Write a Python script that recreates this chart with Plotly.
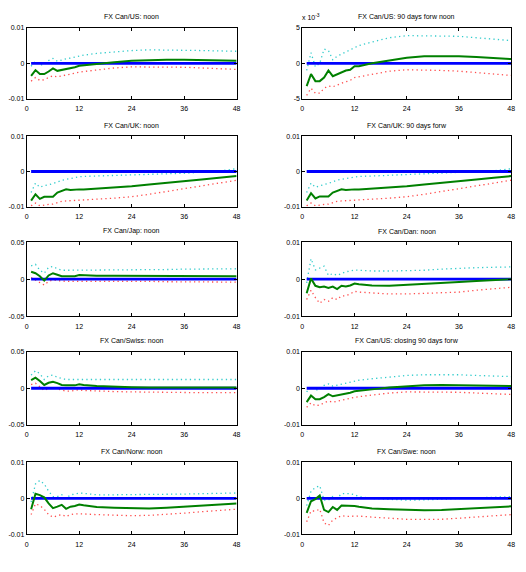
import plotly.graph_objects as go

# Horizons (months)
X = [1, 2, 3, 4, 5, 6, 7, 8, 9, 10, 11, 12, 13, 16, 20, 24, 28, 32, 36, 40, 44, 48]
ZERO = [0.0] * len(X)

titles = [
    "FX Can/US: noon", "FX Can/US: 90 days forw noon",
    "FX Can/UK: noon", "FX Can/UK: 90 days forw",
    "FX Can/Jap: noon", "FX Can/Dan: noon",
    "FX Can/Swiss: noon", "FX Can/US: closing 90 days forw",
    "FX Can/Norw: noon", "FX Can/Swe: noon",
]

# Point response (green) and bands (upper cyan, lower red) per panel
us_noon_mid = [-0.0035, -0.0019, -0.003, -0.003, -0.0023, -0.0014, -0.0021, -0.0019, -0.0016, -0.0014, -0.0011, -0.0007, -0.0006, -0.0002, 0.0003, 0.0007, 0.0009, 0.0010, 0.0010, 0.0009, 0.0008, 0.0007]
us_noon_up = [-0.0008, 0.0006, -0.0005, -0.0003, 0.0008, 0.0014, 0.0006, 0.0010, 0.0013, 0.0015, 0.0018, 0.0021, 0.0023, 0.0028, 0.0033, 0.0036, 0.0038, 0.0038, 0.0037, 0.0036, 0.0035, 0.0034]
us_noon_lo = [-0.0050, -0.0040, -0.0048, -0.0046, -0.0040, -0.0035, -0.0038, -0.0035, -0.0032, -0.0030, -0.0028, -0.0025, -0.0023, -0.0018, -0.0013, -0.0010, -0.0010, -0.0010, -0.0011, -0.0013, -0.0015, -0.0017]

us90_mid = [-3.2, -1.5, -2.5, -2.5, -2.0, -1.0, -1.8, -1.5, -1.2, -1.0, -0.9, -0.4, -0.4, 0.0, 0.4, 0.8, 1.0, 1.05, 1.0, 0.9, 0.8, 0.6]
us90_up = [-1.0, 1.5, -0.5, 0.0, 2.0, 1.8, 0.5, 1.0, 1.3, 1.6, 2.0, 2.3, 2.5, 3.0, 3.6, 3.9, 3.9, 3.9, 3.8, 3.6, 3.4, 3.2]
us90_lo = [-4.5, -3.5, -4.2, -4.2, -3.5, -3.2, -3.3, -3.0, -2.8, -2.6, -2.4, -2.0, -1.9, -1.6, -1.1, -0.9, -0.9, -1.0, -1.1, -1.3, -1.5, -1.7]

uk_noon_mid = [-0.0083, -0.0065, -0.0078, -0.0072, -0.0072, -0.0072, -0.0060, -0.0056, -0.0051, -0.0053, -0.0051, -0.0051, -0.0051, -0.0049, -0.0046, -0.0042, -0.0037, -0.0033, -0.0028, -0.0023, -0.0018, -0.0013]
uk_noon_up = [-0.0060, -0.0033, -0.0045, -0.0040, -0.0038, -0.0035, -0.0030, -0.0025, -0.0022, -0.0020, -0.0018, -0.0015, -0.0014, -0.0013, -0.0011, -0.0010, -0.0008, -0.0006, -0.0005, -0.0002, 0.0001, 0.0008]
uk_noon_lo = [-0.0098, -0.0090, -0.0098, -0.0095, -0.0094, -0.0093, -0.0088, -0.0085, -0.0084, -0.0083, -0.0082, -0.0082, -0.0081, -0.0079, -0.0076, -0.0072, -0.0065, -0.0057, -0.0048, -0.0040, -0.0032, -0.0025]

uk90_mid = [-0.0083, -0.0062, -0.0077, -0.0071, -0.0071, -0.0071, -0.0060, -0.0056, -0.0051, -0.0053, -0.0051, -0.0051, -0.0051, -0.0049, -0.0046, -0.0042, -0.0037, -0.0033, -0.0028, -0.0023, -0.0018, -0.0013]
uk90_up = [-0.0060, -0.0033, -0.0045, -0.0040, -0.0037, -0.0034, -0.0029, -0.0025, -0.0022, -0.0020, -0.0018, -0.0015, -0.0014, -0.0013, -0.0011, -0.0010, -0.0008, -0.0006, -0.0004, -0.0002, 0.0002, 0.0008]
uk90_lo = [-0.0098, -0.0090, -0.0098, -0.0095, -0.0094, -0.0093, -0.0088, -0.0085, -0.0084, -0.0083, -0.0082, -0.0082, -0.0081, -0.0079, -0.0076, -0.0072, -0.0065, -0.0057, -0.0048, -0.0040, -0.0032, -0.0025]

jap_mid = [0.010, 0.008, 0.004, -0.002, 0.005, 0.008, 0.006, 0.004, 0.0038, 0.0035, 0.004, 0.0055, 0.005, 0.0045, 0.0045, 0.0045, 0.0045, 0.0045, 0.0043, 0.0042, 0.0041, 0.004]
jap_up = [0.018, 0.020, 0.012, 0.008, 0.016, 0.017, 0.014, 0.012, 0.012, 0.012, 0.012, 0.013, 0.013, 0.013, 0.013, 0.013, 0.013, 0.013, 0.0135, 0.0135, 0.014, 0.014]
jap_lo = [0.002, -0.001, -0.004, -0.008, -0.003, -0.001, -0.002, -0.003, -0.003, -0.003, -0.003, -0.002, -0.002, -0.0025, -0.003, -0.003, -0.003, -0.0035, -0.0035, -0.0038, -0.004, -0.004]

dan_mid = [-0.0038, 0.0002, -0.0018, -0.0022, -0.0020, -0.0024, -0.0020, -0.0027, -0.0018, -0.0020, -0.0017, -0.0012, -0.0014, -0.0017, -0.0018, -0.0016, -0.0014, -0.0011, -0.0008, -0.0005, -0.0002, 0.0]
dan_up = [-0.0010, 0.0055, 0.0025, 0.0030, 0.0035, 0.0010, 0.0015, 0.0010, 0.0015, 0.0020, 0.0022, 0.0025, 0.0024, 0.0022, 0.0022, 0.0022, 0.0024, 0.0027, 0.0030, 0.0031, 0.0032, 0.0033]
dan_lo = [-0.0055, -0.0030, -0.0050, -0.0065, -0.0055, -0.0060, -0.0050, -0.0055, -0.0045, -0.0045, -0.0040, -0.0033, -0.0035, -0.0038, -0.0040, -0.0040, -0.0039, -0.0037, -0.0035, -0.0030, -0.0026, -0.0022]

swiss_mid = [0.011, 0.0145, 0.010, 0.0045, 0.0075, 0.009, 0.007, 0.0045, 0.004, 0.0035, 0.004, 0.0055, 0.0045, 0.003, 0.002, 0.0015, 0.0012, 0.001, 0.001, 0.001, 0.001, 0.001]
swiss_up = [0.018, 0.024, 0.020, 0.012, 0.017, 0.018, 0.015, 0.013, 0.012, 0.012, 0.012, 0.013, 0.013, 0.012, 0.012, 0.012, 0.012, 0.012, 0.012, 0.012, 0.012, 0.012]
swiss_lo = [0.005, 0.007, 0.002, -0.003, 0.000, 0.001, -0.001, -0.003, -0.004, -0.004, -0.003, -0.002, -0.003, -0.004, -0.0045, -0.005, -0.0055, -0.0055, -0.006, -0.006, -0.006, -0.006]

usc_mid = [-0.0038, -0.0020, -0.0030, -0.0030, -0.0024, -0.0016, -0.0022, -0.0020, -0.0016, -0.0014, -0.0012, -0.0008, -0.0007, -0.0003, 0.0002, 0.0006, 0.0008, 0.0009, 0.0009, 0.0008, 0.0007, 0.0006]
usc_up = [-0.0010, 0.0005, -0.0005, -0.0003, 0.0008, 0.0012, 0.0006, 0.0009, 0.0012, 0.0014, 0.0017, 0.0020, 0.0022, 0.0026, 0.0031, 0.0035, 0.0037, 0.0038, 0.0037, 0.0035, 0.0034, 0.0032]
usc_lo = [-0.0052, -0.0040, -0.0048, -0.0046, -0.0040, -0.0035, -0.0038, -0.0035, -0.0032, -0.0030, -0.0028, -0.0025, -0.0023, -0.0018, -0.0013, -0.0010, -0.0010, -0.0010, -0.0011, -0.0013, -0.0015, -0.0017]

norw_mid = [-0.0030, 0.0013, 0.0009, 0.0003, -0.0014, -0.0027, -0.0023, -0.0018, -0.0029, -0.0023, -0.0021, -0.0017, -0.0019, -0.0024, -0.0026, -0.0028, -0.0028, -0.0026, -0.0023, -0.0020, -0.0017, -0.0014]
norw_up = [-0.0010, 0.0040, 0.0050, 0.0040, 0.0020, 0.0005, 0.0005, 0.0010, 0.0000, 0.0010, 0.0012, 0.0015, 0.0014, 0.0010, 0.0010, 0.0010, 0.0010, 0.0011, 0.0012, 0.0013, 0.0014, 0.0015]
norw_lo = [-0.0045, -0.0015, -0.0020, -0.0030, -0.0045, -0.0052, -0.0048, -0.0045, -0.0050, -0.0045, -0.0043, -0.0042, -0.0043, -0.0045, -0.0047, -0.0048, -0.0047, -0.0045, -0.0041, -0.0037, -0.0033, -0.0030]

swe_mid = [-0.0040, -0.0008, -0.0002, 0.0008, -0.0032, -0.0038, -0.0024, -0.0032, -0.0020, -0.0020, -0.0020, -0.0021, -0.0023, -0.0028, -0.0030, -0.0032, -0.0033, -0.0032, -0.0030, -0.0028, -0.0026, -0.0022]
swe_up = [-0.0020, 0.0020, 0.0030, 0.0035, -0.0005, -0.0005, 0.0005, 0.0000, 0.0013, 0.0013, 0.0013, 0.0010, 0.0005, 0.0000, -0.0003, -0.0005, -0.0004, -0.0002, 0.0000, 0.0002, 0.0004, 0.0005]
swe_lo = [-0.0065, -0.0035, -0.0035, -0.0030, -0.0068, -0.0075, -0.0060, -0.0055, -0.0048, -0.0050, -0.0049, -0.0048, -0.0049, -0.0052, -0.0055, -0.0058, -0.0058, -0.0058, -0.0055, -0.0052, -0.0048, -0.0045]

panels = [
    (us_noon_mid, us_noon_up, us_noon_lo),
    (us90_mid, us90_up, us90_lo),
    (uk_noon_mid, uk_noon_up, uk_noon_lo),
    (uk90_mid, uk90_up, uk90_lo),
    (jap_mid, jap_up, jap_lo),
    (dan_mid, dan_up, dan_lo),
    (swiss_mid, swiss_up, swiss_lo),
    (usc_mid, usc_up, usc_lo),
    (norw_mid, norw_up, norw_lo),
    (swe_mid, swe_up, swe_lo),
]

y_lims = [0.01, 5, 0.01, 0.01, 0.05, 0.01, 0.05, 0.01, 0.01, 0.01]
y_labels = [
    ["-0.01", "0", "0.01"], ["-5", "0", "5"],
    ["-0.01", "0", "0.01"], ["-0.01", "0", "0.01"],
    ["-0.05", "0", "0.05"], ["-0.01", "0", "0.01"],
    ["-0.05", "0", "0.05"], ["-0.01", "0", "0.01"],
    ["-0.01", "0", "0.01"], ["-0.01", "0", "0.01"],
]
x_ticks = [0, 12, 24, 36, 48]

# page body has an 8px margin; compensate so the picture lands where intended
OFF = 8
W, H = 526 - OFF, 572 - OFF
col_px = [(21, 235), (302, 515)]
row_px = [(24, 96), (134, 205), (241, 316), (352, 426), (464, 537)]

FONT = "Liberation Sans Narrow, Liberation Sans, Arial, sans-serif"

def px_x(v):
    return (v - OFF) / W

def px_y(v):
    return 1 - (v - OFF) / H

fig = go.Figure()
annotations = []
layout_axes = {}

for i, (mid, up, lo) in enumerate(panels):
    r, c = divmod(i, 2)
    n = i + 1
    xa = "x" if n == 1 else f"x{n}"
    ya = "y" if n == 1 else f"y{n}"
    x0, x1 = col_px[c]
    t0, b0 = row_px[r]
    lim = y_lims[i]
    common = dict(xaxis=xa, yaxis=ya, showlegend=False, hoverinfo="skip")
    fig.add_trace(go.Scatter(x=X, y=up, mode="lines",
                             line=dict(color="#33cccc", width=1.3, dash="1.3px,3.2px"), **common))
    fig.add_trace(go.Scatter(x=X, y=lo, mode="lines",
                             line=dict(color="#ff4d4d", width=1.3, dash="1.3px,3.2px"), **common))
    fig.add_trace(go.Scatter(x=X, y=ZERO, mode="lines",
                             line=dict(color="#0000ff", width=2.8), **common))
    fig.add_trace(go.Scatter(x=X, y=mid, mode="lines",
                             line=dict(color="#008000", width=2), **common))

    axstyle = dict(showline=True, linecolor="black", linewidth=1, mirror="ticks",
                   ticks="inside", ticklen=3, tickwidth=1, tickcolor="black",
                   showgrid=False, zeroline=False,
                   tickfont=dict(family=FONT, size=7, color="black"))
    layout_axes["xaxis" if n == 1 else f"xaxis{n}"] = dict(
        domain=[px_x(x0), px_x(x1)], range=[0, 48], tickvals=x_ticks,
        ticktext=[str(v) for v in x_ticks], anchor=ya, ticklabelstandoff=3, **axstyle)
    layout_axes["yaxis" if n == 1 else f"yaxis{n}"] = dict(
        domain=[px_y(b0), px_y(t0)], range=[-lim, lim],
        tickvals=[-lim, 0, lim], ticktext=y_labels[i], anchor=xa, **axstyle)

    annotations.append(dict(text=titles[i], xref="paper", yref="paper",
                            x=px_x((x0 + x1) / 2), y=px_y(t0 - 11),
                            xanchor="center", yanchor="middle", showarrow=False,
                            font=dict(family=FONT, size=7, color="black")))

# exponent label for panel 2
annotations.append(dict(text="x 10<sup>-3</sup>", xref="paper", yref="paper",
                        x=px_x(300), y=px_y(13), xanchor="left", yanchor="middle",
                        showarrow=False, font=dict(family=FONT, size=7, color="black")))

fig.update_layout(width=W, height=H, margin=dict(l=0, r=0, t=0, b=0),
                  paper_bgcolor="white", plot_bgcolor="white",
                  annotations=annotations, **layout_axes)

fig.write_html("out.html")
